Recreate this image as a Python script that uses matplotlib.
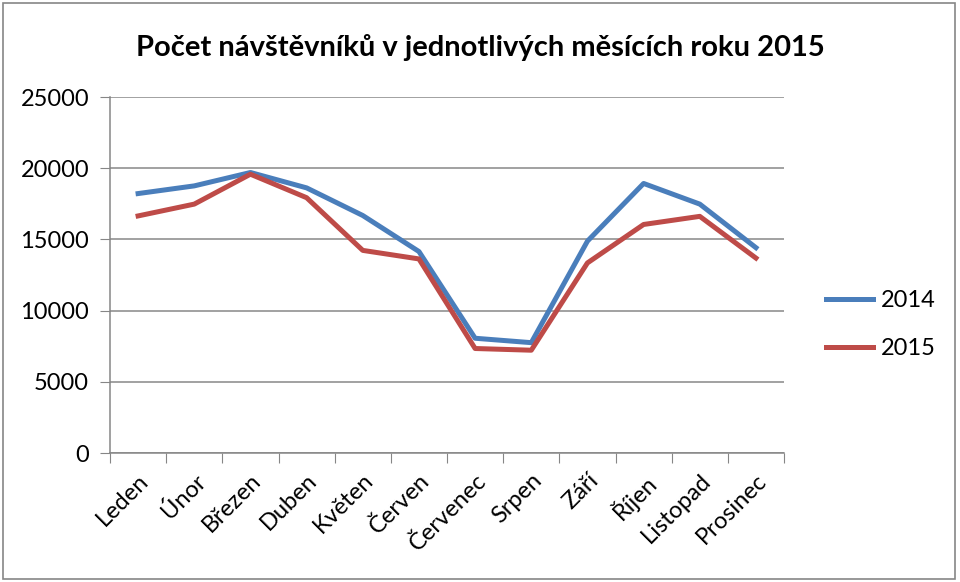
import matplotlib.pyplot as plt
from matplotlib import rcParams
from matplotlib.patches import Rectangle

rcParams['font.family'] = ['Lato', 'DejaVu Sans']

months = ['Leden', 'Únor', 'Březen', 'Duben', 'Květen', 'Červen',
          'Červenec', 'Srpen', 'Září', 'Říjen', 'Listopad', 'Prosinec']
visitors_2014 = [18220, 18760, 19700, 18620, 16680, 14150,
                 8060, 7750, 14880, 18930, 17480, 14420]
visitors_2015 = [16650, 17480, 19580, 17930, 14230, 13630,
                 7340, 7220, 13350, 16050, 16620, 13690]
y_ticks = [0, 5000, 10000, 15000, 20000, 25000]

fig = plt.figure(figsize=(9.6, 5.82), dpi=100)
ax = fig.add_axes([0.1146, 0.2216, 0.7021, 0.6117])

x = range(len(months))
ax.plot(x, visitors_2014, color='#4A7EBB', lw=3.6, label='2014', solid_joinstyle='round')
ax.plot(x, visitors_2015, color='#BE4B48', lw=3.6, label='2015', solid_joinstyle='round')

ax.set_xlim(-0.5, len(months) - 0.5)
ax.set_ylim(0, 25000)
ax.set_yticks(y_ticks)
ax.set_yticklabels([str(v) for v in y_ticks], fontsize=17)
ax.set_xticks([i - 0.5 for i in range(len(months) + 1)])
ax.set_xticklabels([])
ax.set_xticks(list(x), minor=True)
ax.set_xticklabels(months, minor=True, rotation=45, ha='right',
                   rotation_mode='anchor', fontsize=17)
ax.tick_params(axis='x', which='minor', length=0, pad=12)
ax.tick_params(axis='x', which='major', length=7, color='#868686')
ax.tick_params(axis='y', length=7, color='#868686', pad=8)

ax.grid(axis='y', color='#888888', lw=1.1)
ax.set_axisbelow(True)
for side in ['top', 'right']:
    ax.spines[side].set_visible(False)
for side in ['left', 'bottom']:
    ax.spines[side].set_color('#868686')
    ax.spines[side].set_linewidth(1.1)

fig.suptitle('Počet návštěvníků v jednotlivých měsících roku 2015',
             x=0.5, y=0.942, fontsize=21, fontweight='bold')

ax.legend(loc='center left', bbox_to_anchor=(1.03, 0.36), frameon=False,
          fontsize=17, handlelength=2.0, labelspacing=1.15, handletextpad=0.35)

# outer border of the chart
fig.patches.append(Rectangle((0.003, 0.005), 0.992, 0.99, transform=fig.transFigure,
                             fill=False, edgecolor='#868686', lw=1.2))

plt.savefig('out.png', dpi=100)
